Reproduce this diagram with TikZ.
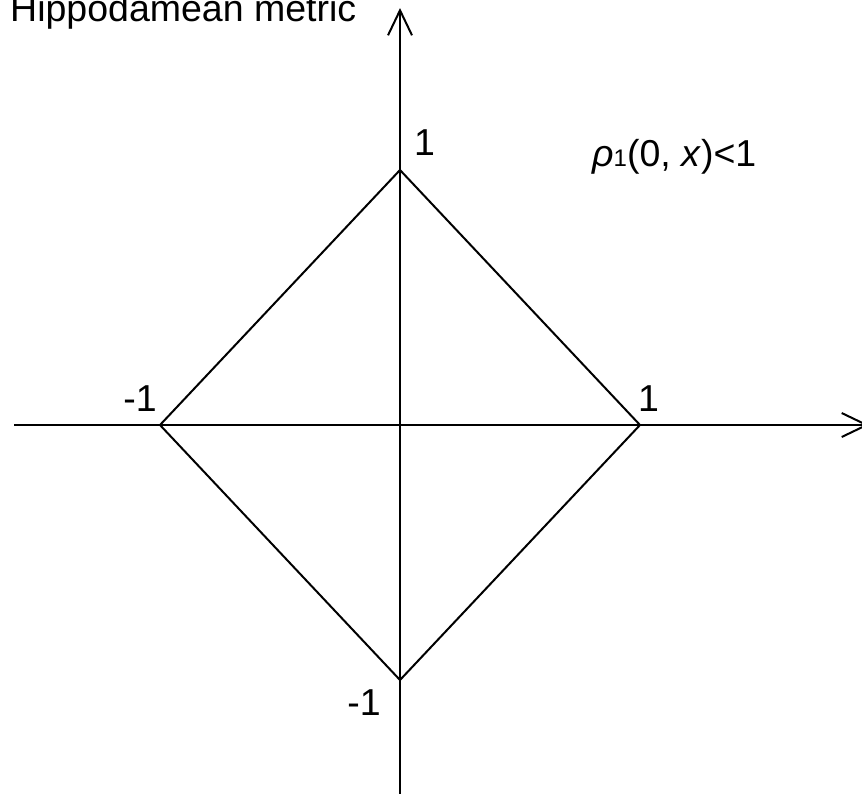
\documentclass[tikz,border=0pt]{standalone}
\usepackage{fontspec}
\setmainfont{Liberation Sans}
\usetikzlibrary{arrows.meta}
\begin{document}
\begin{tikzpicture}[x=1pt,y=-1pt,
  axis/.style={line width=2pt,-{Straight Barb[length=25pt,width=24pt,line width=2pt]}},
  edge/.style={line width=2pt,line join=miter},
  lbl/.style={font=\fontsize{37.5}{40}\selectfont,inner sep=0pt}]
\useasboundingbox (0,0) rectangle (862,793);
\begin{scope}
\clip (0,0) rectangle (862,793);
% axes
\coordinate (xs) at (14,425);
\coordinate (xe) at (869,425);
\coordinate (ys) at (400,800);
\coordinate (ye) at (400,8);
\draw[axis] (xs) -- (xe);
\draw[axis] (ys) -- (ye);
% diamond
\coordinate (top) at (400,170);
\coordinate (right) at (640,425);
\coordinate (bottom) at (400,680);
\coordinate (left) at (160,425);
\draw[edge] (top) -- (right) -- (bottom) -- (left) -- cycle;
\end{scope}
% labels
\node[lbl,anchor=base west] (title) at (10,21) {Hippodamean metric};
\node[lbl,anchor=base west] (ltop) at (414,155) {1};
\node[lbl,anchor=base west] (lright) at (638,411) {1};
\node[lbl,anchor=base east] (lleft) at (157,411) {-1};
\node[lbl,anchor=base east] (lbottom) at (381,715) {-1};
\node[lbl,anchor=base west] (rho) at (592,166) {\textit{ρ}{\fontsize{24}{26}\selectfont 1}(0, \textit{x})<1};
\end{tikzpicture}
\end{document}
